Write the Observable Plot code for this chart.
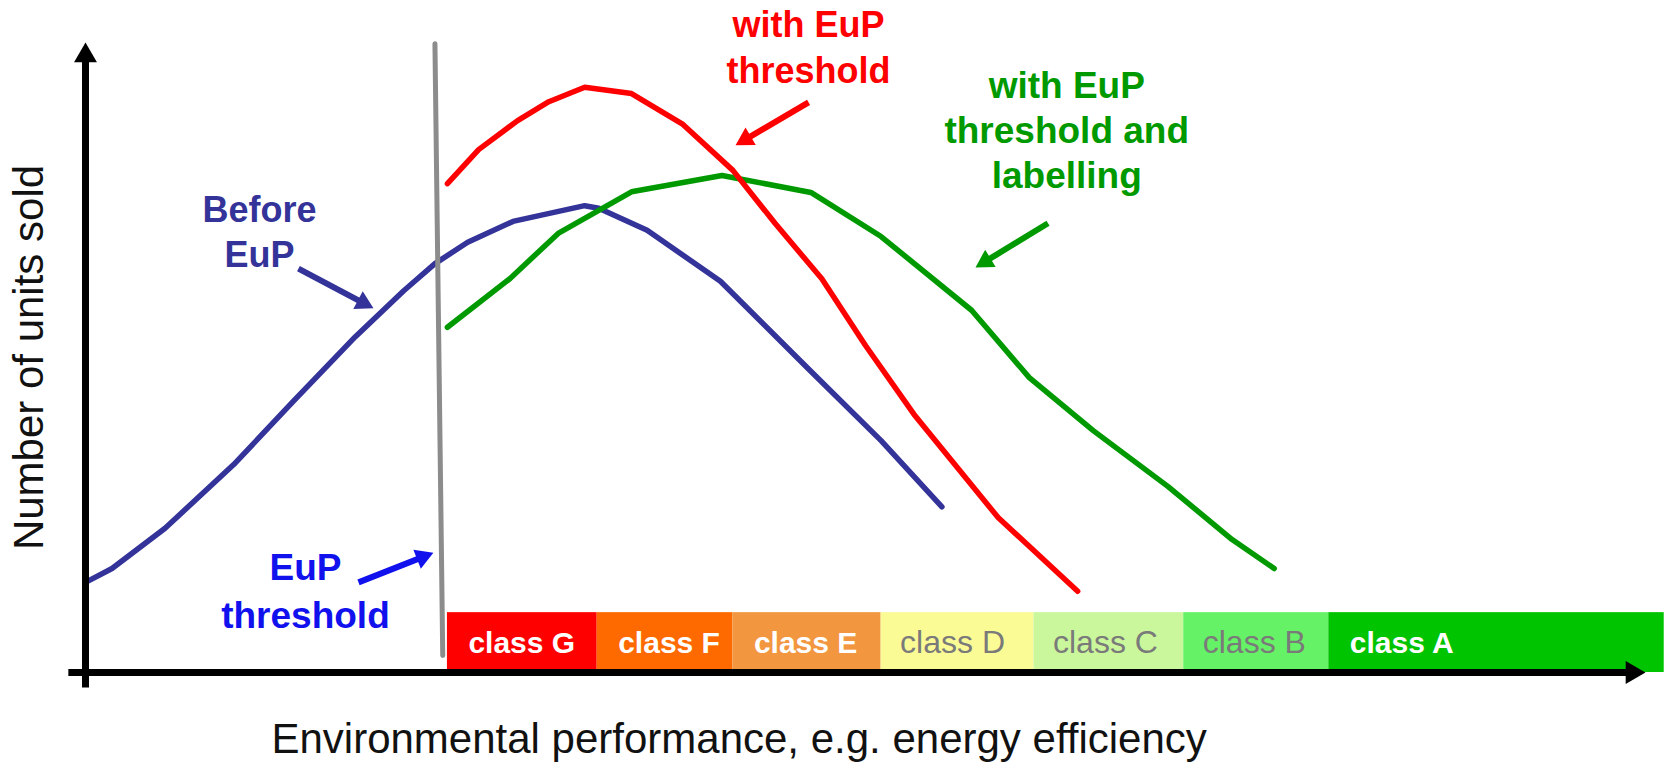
<!DOCTYPE html>
<html>
<head>
<meta charset="utf-8">
<script src="https://cdn.jsdelivr.net/npm/d3@7"></script>
<script src="https://cdn.jsdelivr.net/npm/@observablehq/plot@0.6"></script>
<style>
html,body{margin:0;padding:0;background:#fff;overflow:hidden}
</style>
</head>
<body>
<div id="chart"></div>
<script>
// ---------- data (arbitrary units: performance 0–100, units sold 0–100) ----------
const perfBefore  = [0, 1.7, 5.1, 9.5, 13.3, 17.3, 20.4, 22.4, 24.5, 27.4, 32.0, 32.9, 36.0, 40.7, 46.3, 51.0, 54.9];
const salesBefore = [14.3, 16.5, 22.9, 33.0, 43.0, 53.3, 60.6, 64.9, 68.3, 71.6, 74.1, 73.7, 70.2, 62.1, 48.3, 36.8, 26.3];

const perfThreshold  = [23.2, 25.2, 27.7, 29.7, 32.0, 35.0, 38.3, 41.5, 44.2, 47.2, 50.0, 53.1, 58.5, 63.6];
const salesThreshold = [77.6, 83.0, 87.6, 90.6, 92.9, 91.9, 87.0, 79.7, 71.3, 62.5, 51.9, 41.0, 24.6, 12.9];

const perfLabelling  = [23.2, 27.2, 30.3, 35.0, 40.8, 46.5, 51.0, 56.8, 60.5, 64.6, 69.4, 73.5, 76.2];
const salesLabelling = [54.8, 62.5, 69.7, 76.3, 78.9, 76.2, 69.2, 57.5, 46.8, 38.4, 29.5, 21.1, 16.5];

const classNames = ["class G", "class F", "class E", "class D", "class C", "class B", "class A"];
const classStart = [23.2, 32.8, 41.5, 51.0, 60.8, 70.4, 79.7];
const classEnd   = [32.8, 41.5, 51.0, 60.8, 70.4, 79.7, 101.2];
const classBandTop = 9.5;

const thresholdPerf  = [22.4, 22.9];
const thresholdSales = [99.8, 2.7];

const xAxisLabel = "Environmental performance, e.g. energy efficiency";
const yAxisLabel = "Number of units sold";

const noteText = ["Before\nEuP", "EuP\nthreshold", "with EuP\nthreshold", "with EuP\nthreshold and\nlabelling"];
const noteX = [11.15, 14.1, 46.35, 62.9];
const noteY = [64.3, 7.14, 93.5, 76.9];
// annotation arrows: start (x1,y1) -> tip (x2,y2)
const arrowX1 = [13.65, 17.5, 46.35, 61.7];
const arrowY1 = [64.1, 14.3, 90.5, 71.3];
const arrowX2 = [18.46, 22.3, 41.67, 57.05];
const arrowY2 = [57.8, 19.0, 83.7, 64.3];

// ---------- styles ----------
const W = 1664, H = 765;
const M = {left: 85, right: 19, top: 42, bottom: 93};
const FONT = "'Liberation Sans', Arial, Helvetica, sans-serif";
const classFill = ["#ff0000", "#ff6a00", "#f2963f", "#fbfb96", "#cbf79c", "#66f266", "#00c400"];
const whiteLabelClasses = new Set(["class G", "class F", "class E", "class A"]);
const noteColor = ["#333399", "#1111ee", "#ff0000", "#009a00"];
const noteSize = [36, 37, 36, 37];
const noteLH = [1.25, 1.28, 1.28, 1.21];

// ---------- build ----------
const toRows = (xs, ys) => xs.map((x, i) => ({x, y: ys[i]}));
const classes = classNames.map((name, i) => ({name, x1: classStart[i], x2: classEnd[i]}));

const sx = d3.scaleLinear([0, 100], [M.left, W - M.right]);
const sy = d3.scaleLinear([0, 100], [H - M.bottom, M.top]);
function arrowGeom(x1, y1, x2, y2, r) {
  const px1 = sx(x1), py1 = sy(y1), px2 = sx(x2), py2 = sy(y2);
  const L = Math.hypot(px2 - px1, py2 - py1);
  const ux = (px2 - px1) / L, uy = (py2 - py1) / L;
  const c = 1.555 * r;
  return {x1, y1, x2: sx.invert(px2 - ux * c), y2: sy.invert(py2 - uy * c),
          hx: sx.invert(px2 - ux * c), hy: sy.invert(py2 - uy * c),
          rotate: Math.atan2(ux, -uy) * 180 / Math.PI};
}

const marks = [];

// energy classes band
marks.push(Plot.rect(classes, {x1: "x1", x2: "x2", y1: 0, y2: classBandTop, fill: "name"}));
marks.push(Plot.text(classes.filter(d => whiteLabelClasses.has(d.name)), {
  x: "x1", y: classBandTop * 0.32, text: "name", textAnchor: "start", lineAnchor: "bottom",
  dx: 21, fill: "white", fontWeight: "bold", fontSize: 30
}));
marks.push(Plot.text(classes.filter(d => !whiteLabelClasses.has(d.name)), {
  x: "x1", y: classBandTop * 0.32, text: "name", textAnchor: "start", lineAnchor: "bottom",
  dx: 19, fill: "#7a7a7a", fontWeight: "normal", fontSize: 32
}));

// curves
marks.push(Plot.line(toRows(perfBefore, salesBefore), {x: "x", y: "y", stroke: "#333399", strokeWidth: 5.5}));
marks.push(Plot.line(toRows(thresholdPerf, thresholdSales), {x: "x", y: "y", stroke: "#8c8c8c", strokeWidth: 5}));
marks.push(Plot.line(toRows(perfLabelling, salesLabelling), {x: "x", y: "y", stroke: "#009a00", strokeWidth: 5.5}));
marks.push(Plot.line(toRows(perfThreshold, salesThreshold), {x: "x", y: "y", stroke: "#ff0000", strokeWidth: 5.5}));

// axes with filled arrowheads
const yAx = arrowGeom(0, -2.4, 0, 100, 8.5);
const xAx = arrowGeom(-1.1, 0, 100, 0, 8.5);
marks.push(Plot.link([yAx, xAx], {x1: "x1", y1: "y1", x2: "x2", y2: "y2", stroke: "black", strokeWidth: 7}));
marks.push(Plot.dot([yAx, xAx], {x: "hx", y: "hy", rotate: "rotate", symbol: "triangle", r: 8.5, fill: "black"}));

// annotations
noteText.forEach((t, i) => {
  marks.push(Plot.text([t], {
    x: noteX[i], y: noteY[i], text: d => d, textAnchor: "middle", lineAnchor: "bottom",
    lineHeight: noteLH[i], fill: noteColor[i], fontWeight: "bold", fontSize: noteSize[i]
  }));
  const a = arrowGeom(arrowX1[i], arrowY1[i], arrowX2[i], arrowY2[i], 7.5);
  marks.push(Plot.link([a], {x1: "x1", y1: "y1", x2: "x2", y2: "y2", stroke: noteColor[i], strokeWidth: 6}));
  marks.push(Plot.dot([a], {x: "hx", y: "hy", rotate: "rotate", symbol: "triangle", r: 7.5, fill: noteColor[i]}));
});

// axis titles
marks.push(Plot.text([yAxisLabel], {
  frameAnchor: "left", text: d => d, rotate: -90, textAnchor: "middle", lineAnchor: "bottom",
  dx: -43, fontSize: 42, fill: "#111"
}));
marks.push(Plot.text([xAxisLabel], {
  x: 41.9, frameAnchor: "bottom", text: d => d, textAnchor: "middle", lineAnchor: "bottom",
  dy: 80, fontSize: 42, fill: "#111"
}));

const plot = Plot.plot({
  width: W, height: H,
  marginLeft: M.left, marginRight: M.right, marginTop: M.top, marginBottom: M.bottom,
  x: {domain: [0, 100], axis: null},
  y: {domain: [0, 100], axis: null},
  color: {domain: classNames, range: classFill},
  style: {fontFamily: FONT, background: "white", overflow: "visible"},
  marks
});
document.getElementById("chart").appendChild(plot);
</script>
</body>
</html>
